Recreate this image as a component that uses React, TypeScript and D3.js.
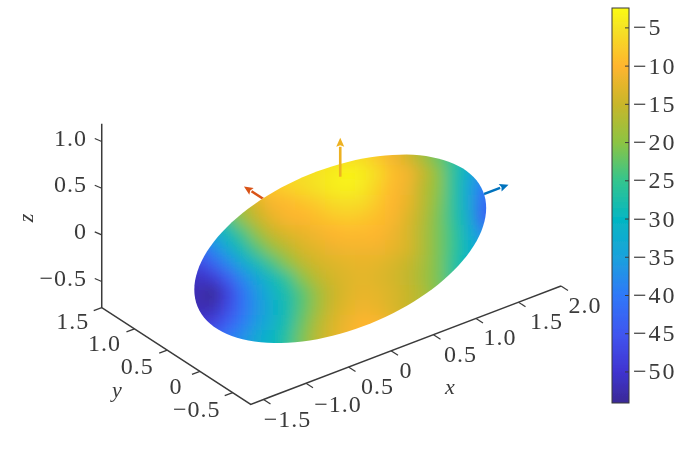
import React from 'react'
import * as d3 from 'd3'

// tick values and labels, as printed in the figure
const xTicks = [-1.5, -1, -0.5, 0, 0.5, 1, 1.5, 2]
const xLabels = ['\u22121.5', '\u22121.0', '0.5', '0', '0.5', '1.0', '1.5', '2.0']
const yTicks = [-0.5, 0, 0.5, 1, 1.5]
const yLabels = ['\u22120.5', '0', '0.5', '1.0', '1.5']
const zTicks = [-0.5, 0, 0.5, 1]
const zLabels = ['\u22120.5', '0', '0.5', '1.0']
const colorTicks = [-5, -10, -15, -20, -25, -30, -35, -40, -45, -50]

// colormap stops
const colorStops = [-2.4, -5, -10, -15, -20, -25, -30, -35, -40, -45, -50, -54]
const colorValues = ['#fbfb14', '#f5e324', '#ffb52e', '#c8b62a', '#8cc443', '#34c58e', '#04b6c2', '#1ba2dc', '#2f78f8', '#3f56f0', '#3f33d0', '#3a2a96']

// ellipsoid semi axes
const semiAxes = [1.63, 0.7, 0.773]
const center = [0, 0, -0.04]

// arrow tips along x, y, z
const arrowTips = [1.98, 1.47, 1.19]

// surface value seen from the camera, sampled on a view grid, top row first
const row0 = [-6, -6, -6, -6, -6, -6, -6, -6, -6, -6, -6, -6, -8, -11, -14, -18, -22, -26, -30, -34]
const row1 = [-8, -8, -8, -8, -8, -7, -6, -5.5, -5, -4, -3, -4, -6, -9, -11, -15, -20, -26, -32, -38]
const row2 = [-14, -13, -12, -11, -9, -8, -7, -6, -5, -4, -3.5, -4.5, -7, -9.5, -11.5, -16, -20, -26, -33, -40]
const row3 = [-25, -23, -20, -17, -13, -10.5, -9.5, -8.5, -7.5, -6, -5.5, -6, -8, -10, -12, -16, -20.5, -26, -33, -42]
const row4 = [-32, -29, -24, -19, -15, -12, -10.5, -10, -9, -8, -7.5, -8, -9, -10.5, -13, -16.5, -21, -26, -32, -43]
const row5 = [-38, -33, -29, -24, -19, -15, -13, -12, -11, -10, -9.5, -9.5, -10, -11.5, -13.5, -17, -21, -25, -31, -38]
const row6 = [-42, -38, -33, -28, -23, -19, -16, -13.5, -12.5, -11.5, -11, -11, -11, -12, -13.5, -17, -21, -25, -30, -35]
const row7 = [-47, -43, -38, -33, -28.5, -24, -20, -16, -14, -13, -12.5, -12, -12.5, -13.5, -15, -17.5, -21, -26, -30, -33]
const row8 = [-51, -49, -44, -38, -33.5, -29, -25, -20, -16, -14, -13, -12.5, -13, -14, -15.5, -18, -21, -26, -29, -31]
const row9 = [-52, -54, -48, -41, -36, -31, -27.5, -23, -18.5, -15, -13, -12, -12.5, -13.5, -15, -17, -21, -24, -26, -28]
const row10 = [-52, -52, -47, -41, -36.5, -32, -28, -23, -18.5, -14.5, -12.5, -11.5, -12, -13.5, -15, -17, -19, -21, -23, -25]
const row11 = [-50, -48, -44, -39.5, -35.5, -31.5, -27.5, -22, -17, -13.5, -11.5, -10, -10.5, -12, -14, -16, -18, -20, -22, -24]
const row12 = [-46, -44, -40, -37, -33, -30, -26, -21, -16, -13, -11, -10, -10, -12, -14, -16, -18, -20, -22, -24]
const surfaceRows = [row0, row1, row2, row3, row4, row5, row6, row7, row8, row9, row10, row11, row12]

const width = 700
const height = 452
const font = '"Liberation Serif", serif'
const ink = '#3a3a3a'
const fontSize = 24

// axis limits of the box
const xMin = -1.65, xMax = 2
const yMin = -0.775, yMax = 1.5
const zMin = -0.78, zMax = 1.19

// the view is orthographic, so each data axis is a straight screen direction
const xToPx = d3.scaleLinear().domain([-1.5, 2]).range([263.5, 561])
const xToPy = d3.scaleLinear().domain([-1.5, 2]).range([399.5, 286])
const yToPx = d3.scaleLinear().domain([-0.5, 1.5]).range([233, 102])
const yToPy = d3.scaleLinear().domain([-0.5, 1.5]).range([392, 307])
const zToPy = d3.scaleLinear().domain([-0.5, 1]).range([282, 142])

function project(x: number, y: number, z: number): [number, number] {
    return [
        xToPx(x) + yToPx(y) - yToPx(yMin),
        xToPy(x) + yToPy(y) - yToPy(yMin) + zToPy(z) - zToPy(zMin),
    ]
}

const color = d3.scaleLinear<string>().domain(colorStops).range(colorValues).clamp(true)
const barY = d3.scaleLinear().domain([-2.4, -54.06]).range([8, 403])

// outline of the ellipsoid in the picture, from its projected axes
function outline() {
    const o = project(center[0], center[1], center[2])
    const ax = project(center[0] + semiAxes[0], center[1], center[2])
    const ay = project(center[0], center[1] + semiAxes[1], center[2])
    const az = project(center[0], center[1], center[2] + semiAxes[2])
    const points: [number, number][] = []
    // silhouette: sqrt of Q = P D P^T applied to the unit circle
    const a = [ax[0] - o[0], ay[0] - o[0], az[0] - o[0]]
    const b = [ax[1] - o[1], ay[1] - o[1], az[1] - o[1]]
    const q11 = d3.sum(a, d => d * d)
    const q12 = d3.sum(a, (d, i) => d * b[i])
    const q22 = d3.sum(b, d => d * d)
    const l11 = Math.sqrt(q11)
    const l21 = q12 / l11
    const l22 = Math.sqrt(q22 - l21 * l21)
    d3.range(0, 361, 3).forEach(t => {
        const c = Math.cos((t * Math.PI) / 180)
        const s = Math.sin((t * Math.PI) / 180)
        points.push([o[0] + l11 * c, o[1] + l21 * c + l22 * s])
    })
    return points
}

function Arrow({ from, to, stroke }: { from: [number, number], to: [number, number], stroke: string }) {
    const dx = to[0] - from[0]
    const dy = to[1] - from[1]
    const len = Math.hypot(dx, dy)
    const ux = dx / len, uy = dy / len
    const bx = to[0] - ux * 9, by = to[1] - uy * 9
    const head = d3.line()([
        to,
        [bx - uy * 4, by + ux * 4],
        [to[0] - ux * 7.5, to[1] - uy * 7.5],
        [bx + uy * 4, by - ux * 4],
    ]) + 'Z'
    return (
        <g filter="url(#soft)">
            <line x1={from[0]} y1={from[1]} x2={bx} y2={by} stroke={stroke} strokeWidth={2.6} />
            <path d={head} fill={stroke} />
        </g>
    )
}

function Tick({ p, dx, dy }: { p: [number, number], dx: number, dy: number }) {
    return <line x1={p[0]} y1={p[1]} x2={p[0] + dx} y2={p[1] + dy} stroke={ink} strokeWidth={1.2} />
}

export default function App() {
    const shape = outline()
    const line = d3.line()
    const colX = d3.scaleBand<number>().domain(d3.range(row0.length)).range([190, 490])
    const rowY = d3.scaleBand<number>().domain(d3.range(surfaceRows.length)).range([150, 345])

    // x axis tick labels sit at uneven distances in the figure
    const xLabelDx = [24, 32, 29, 15, 27, 24, 28, 24]
    const xLabelDy = [27, 29, 27, 27, 27, 27, 27, 27]
    const yLabelDx = [-36, -24, -30, -30, -29]
    const yLabelDy = [24, 23, 24, 22, 21]

    return (
        <svg width={width} height={height} style={{ position: 'absolute', left: 0, top: 0, background: '#fff' }}
            fontFamily={font} fontSize={fontSize} fill={ink}>
            <defs>
                <clipPath id="shape"><path d={line(shape) + 'Z'} /></clipPath>
                <filter id="smooth" filterUnits="userSpaceOnUse" x={100} y={60} width={500} height={380}>
                    <feGaussianBlur stdDeviation={7} />
                </filter>
                <filter id="soft" filterUnits="userSpaceOnUse" x={0} y={0} width={width} height={height}>
                    <feGaussianBlur stdDeviation={0.35} />
                </filter>
                <linearGradient id="bar" x1="0" x2="0" y1="0" y2="1">
                    {colorStops.map((d, i) => (
                        <stop key={d} offset={(barY(d) - 8) / 395} stopColor={colorValues[i]} />
                    ))}
                </linearGradient>
            </defs>

            <g filter="url(#soft)">
                {/* box axes */}
                <path d={line([project(xMax, yMin, zMin), project(xMin, yMin, zMin), project(xMin, yMax, zMin), project(xMin, yMax, zMax)]) as string}
                    fill="none" stroke={ink} strokeWidth={1.5} />
                {xTicks.map(d => <Tick key={d} p={project(d, yMin, zMin)} dx={7} dy={4.5} />)}
                {yTicks.map(d => <Tick key={d} p={project(xMin, d, zMin)} dx={-8} dy={3} />)}
                {zTicks.map(d => <Tick key={d} p={project(xMin, yMax, d)} dx={-7} dy={-3} />)}

                {xTicks.map((d, i) => {
                    const p = project(d, yMin, zMin)
                    return <text key={d} x={p[0] + xLabelDx[i]} y={p[1] + xLabelDy[i]} textAnchor="middle" letterSpacing={1}>{xLabels[i]}</text>
                })}
                {yTicks.map((d, i) => {
                    const p = project(xMin, d, zMin)
                    return <text key={d} x={p[0] + yLabelDx[i]} y={p[1] + yLabelDy[i]} textAnchor="middle" letterSpacing={1}>{yLabels[i]}</text>
                })}
                {zTicks.map((d, i) => {
                    const p = project(xMin, yMax, d)
                    return <text key={d} x={87} y={p[1] + 4} textAnchor="end" letterSpacing={1}>{zLabels[i]}</text>
                })}

                <text x={450} y={394} textAnchor="middle" fontStyle="italic" fontSize={22}>x</text>
                <text x={117} y={397} textAnchor="middle" fontStyle="italic" fontSize={22}>y</text>
                <text transform="translate(33,218) rotate(-90)" textAnchor="middle" fontStyle="italic" fontSize={22}>z</text>

                {/* colorbar */}
                <rect x={612} y={8} width={17} height={395} fill="url(#bar)" stroke={ink} strokeWidth={1} />
                {colorTicks.map(d => (
                    <g key={d}>
                        <line x1={625} x2={629} y1={barY(d)} y2={barY(d)} stroke={ink} strokeWidth={1} />
                        <text x={633} y={barY(d) + 7.5} letterSpacing={2}>{'\u2212' + Math.abs(d)}</text>
                    </g>
                ))}
            </g>

            {/* arrows that leave the body from behind */}
            <Arrow from={project(center[0], center[1], center[2])} to={project(arrowTips[0], center[1], center[2])} stroke="#0072BD" />
            <Arrow from={project(center[0], center[1], center[2])} to={project(center[0], arrowTips[1], center[2])} stroke="#D95319" />

            {/* surface */}
            <g clipPath="url(#shape)">
                <rect x={180} y={140} width={320} height={215} fill="#fff" />
                <g filter="url(#smooth)">
                    {surfaceRows.map((row, r) => row.map((v, c) => {
                        // edge cells run on past the outline so the blur does not fade there
                        const left = c === 0 ? colX(c)! - 40 : colX(c)!
                        const right = c === row.length - 1 ? colX(c)! + colX.bandwidth() + 40 : colX(c)! + colX.bandwidth()
                        const top = r === 0 ? rowY(r)! - 40 : rowY(r)!
                        const bottom = r === surfaceRows.length - 1 ? rowY(r)! + rowY.bandwidth() + 40 : rowY(r)! + rowY.bandwidth()
                        return <rect key={r + '-' + c} x={left} y={top} width={right - left + 0.5} height={bottom - top + 0.5} fill={color(v)} />
                    }))}
                </g>
            </g>

            {/* z arrow is in front */}
            <Arrow from={project(center[0], center[1], semiAxes[2] + center[2])} to={project(center[0], center[1], arrowTips[2] + center[2])} stroke="#EDB120" />
        </svg>
    )
}
